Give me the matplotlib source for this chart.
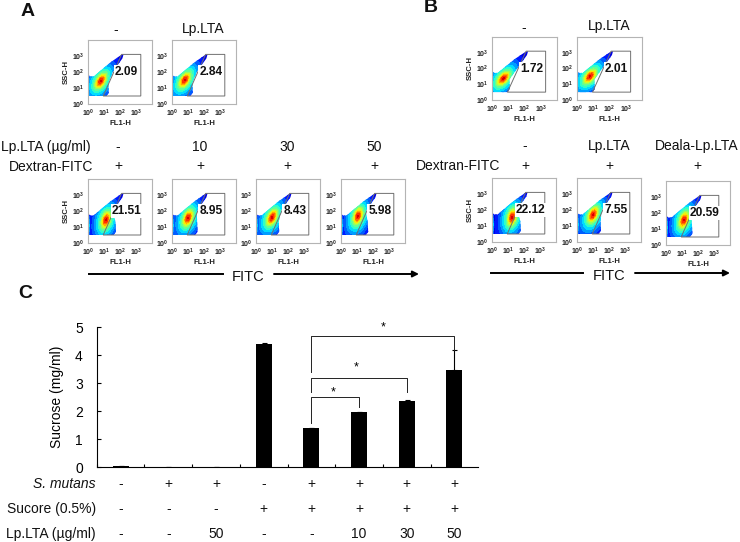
import numpy as np
import matplotlib
matplotlib.use('Agg')
import matplotlib.pyplot as plt
from matplotlib.patches import Polygon

plt.rcParams['font.family'] = ['Liberation Sans', 'DejaVu Sans']
plt.rcParams['mathtext.default'] = 'regular'

W, H = 740, 542

# flow panels: gate %, density peak (log x, log y), right edge of blob foot
a_top_pct = ['2.09', '2.84']
a_top_peak = [(0.80, 1.44), (0.80, 1.50)]
a_top_foot = [1.25, 1.25]

a_pct = ['21.51', '8.95', '8.43', '5.98']
a_peak = [(1.12, 1.44), (1.00, 1.56), (1.00, 1.60), (1.06, 1.68)]
a_foot = [1.70, 1.55, 1.40, 1.65]
a_doses = ['-', '10', '30', '50']

b_top_pct = ['1.72', '2.01']
b_top_peak = [(0.70, 1.37), (0.80, 1.50)]
b_top_foot = [1.05, 1.05]

b_pct = ['22.12', '7.55', '20.59']
b_peak = [(1.25, 1.55), (1.00, 1.70), (1.12, 1.56)]
b_foot = [1.75, 1.45, 1.60]
b_labels = ['-', 'Lp.LTA', 'Deala-Lp.LTA']

# panel C
sucrose = [0.05, 0.01, 0.01, 4.42, 1.40, 1.97, 2.36, 3.46]
sucrose_err = [0.01, 0.0, 0.0, 0.03, 0.01, 0.02, 0.03, 0.72]
s_mutans = ['-', '+', '+', '-', '+', '+', '+', '+']
sucore = ['-', '-', '-', '+', '+', '+', '+', '+']
lp_lta = ['-', '-', '50', '-', '-', '10', '30', '50']
# (from bar, to bar, top, left end, right end)
brackets = [(4, 5, 2.50, 1.60, 2.15), (4, 6, 3.20, 2.70, 2.70), (4, 7, 4.70, 3.40, 4.20)]
stars = [(4.45, 2.68), (4.95, 3.58), (5.5, 5.00)]

fig = plt.figure(figsize=(W / 100, H / 100), dpi=100)


def px_axes(x0, y0, x1, y1):
    return fig.add_axes([x0 / W, 1 - y1 / H, (x1 - x0) / W, (y1 - y0) / H])


def label(x, y, s, size=10, ha='center', **kw):
    fig.text(x / W, 1 - y / H, s, fontsize=size, ha=ha, va='center', color='#111111', **kw)


def flow(x0, y0, x1, y1, pct, peak, foot, ylab=False):
    ax = px_axes(x0, y0, x1, y1)
    ax.set_xlim(0, 4)
    ax.set_ylim(0, 4)
    xx, yy = np.meshgrid(np.linspace(0, 3, 200), np.linspace(0, 3.5, 200))
    # steeper density when the foot is wide
    ang = np.radians(50 + (foot - 1.0) * 35)
    dx, dy = xx - peak[0], yy - peak[1]
    u = dx * np.cos(ang) + dy * np.sin(ang)
    v = -dx * np.sin(ang) + dy * np.cos(ang)
    z = 0.52 * np.exp(-(u / 1.25) ** 2 - (v / 0.72) ** 2) + 0.42 * np.exp(-(u / 0.42) ** 2 - (v / 0.2) ** 2)
    z = np.maximum(z, 0.65 * np.exp(-(xx / 0.07) ** 2) * np.exp(-((yy - 1.1) / 0.7) ** 2))
    cs = ax.contourf(xx, yy, z, levels=np.linspace(0, 1.0, 15), cmap='jet', vmin=-0.06, vmax=1.05)
    outline = [(0, 0.5), (0, 1.85), (0.12, 1.72), (0.35, 1.72), (0.8, 2.1), (1.4, 2.6),
               (2.05, 3.05), (2.22, 3.1), (2.15, 2.85), (1.55, 2.0),
               (foot + 0.02, 1.3), (foot + 0.05, 0.7), (foot - 0.1, 0.5)]
    clip = Polygon(outline, closed=True, transform=ax.transData, fc='none', ec='none')
    ax.add_patch(clip)
    cs.set_clip_path(clip)
    gate = [(2.1, 3.1), (3.3, 3.1), (3.3, 0.5), (0.95, 0.5)]
    ax.add_patch(Polygon(gate, closed=True, fc='none', ec='#707070', lw=0.7))
    ax.text(2.42, 2.0, pct, fontsize=8.6, fontweight='bold', ha='center', va='center', color='#111111',
            bbox=dict(fc='white', ec='none', pad=0.6))
    ticks = [0, 1, 2, 3]
    names = ['$10^{%d}$' % t for t in ticks]
    ax.set_xticks(ticks, names)
    ax.set_yticks(ticks, names)
    ax.tick_params(length=0, pad=2.5, labelsize=5, colors='#222222')
    for t in ax.get_xticklabels() + ax.get_yticklabels():
        t.set_fontweight('bold')
    ax.set_xlabel('FL1-H', fontsize=5.6, fontweight='bold', labelpad=1, color='#222222')
    if ylab:
        ax.set_ylabel('SSC-H', fontsize=5.6, fontweight='bold', labelpad=1.5, color='#222222')
    for s in ax.spines.values():
        s.set_color('#b4b4b4')
        s.set_linewidth(0.8)


# panel A
for i, x in enumerate([88, 172]):
    flow(x, 40, x + 64, 104, a_top_pct[i], a_top_peak[i], a_top_foot[i], ylab=i == 0)
for i, x in enumerate([88, 172, 256, 341]):
    flow(x, 179, x + 64, 243, a_pct[i], a_peak[i], a_foot[i], ylab=i == 0)

# panel B
for i, x in enumerate([492, 577]):
    flow(x, 37, x + 65, 100, b_top_pct[i], b_top_peak[i], b_top_foot[i], ylab=i == 0)
for i, (x, y) in enumerate([(492, 178), (577, 178), (666, 181)]):
    flow(x, y, x + 64, y + 64, b_pct[i], b_peak[i], b_foot[i], ylab=i == 0)

label(28, 12, 'A', size=14, fontweight='bold')
label(431, 8, 'B', size=14, fontweight='bold')
label(25, 294, 'C', size=14, fontweight='bold')

label(116, 30, '-')
label(203, 29, 'Lp.LTA')
label(524, 28, '-')
label(609, 26, 'Lp.LTA')

label(91, 147, 'Lp.LTA (µg/ml)', ha='right')
label(93, 167, 'Dextran-FITC', ha='right')
for x, d in zip([118, 200, 287, 374], a_doses):
    label(x, 147, d)
    label(x, 166, '+')

label(500, 166, 'Dextran-FITC', ha='right')
for x, d in zip([525, 609, 697], b_labels):
    label(x, 146, d)
    label(x, 166, '+')

# FITC arrows, drawn on a full-figure overlay in pixel units
over = fig.add_axes([0, 0, 1, 1], facecolor='none')
over.set_xlim(0, W)
over.set_ylim(H, 0)
over.axis('off')
over.plot([89, 223], [274, 274], color='k', lw=1.4)
over.annotate('', xy=(419, 274), xytext=(274, 274),
              arrowprops=dict(arrowstyle='-|>', color='k', lw=1.4, mutation_scale=9, shrinkA=0, shrinkB=0))
over.plot([491, 583], [273, 273], color='k', lw=1.4)
over.annotate('', xy=(730, 273), xytext=(635, 273),
              arrowprops=dict(arrowstyle='-|>', color='k', lw=1.4, mutation_scale=9, shrinkA=0, shrinkB=0))
label(248, 277, 'FITC', size=10.5)
label(609, 276, 'FITC', size=10.5)

# panel C bars
ax = px_axes(96.7, 327.3, 478.3, 467.3)
pos = np.arange(len(sucrose))
ax.bar(pos, sucrose, width=0.335, color='k')
ax.errorbar(pos, sucrose, yerr=[np.zeros(len(sucrose)), sucrose_err], fmt='none', ecolor='k',
            elinewidth=0.8, capsize=1.8, capthick=0.8)
ax.set_xlim(-0.5, 7.5)
ax.set_ylim(0, 5)
ax.set_xticks(np.arange(8) - 0.5, [''] * 8)
ax.set_yticks(range(6))
ax.tick_params(axis='y', direction='in', length=3, width=0.8, labelsize=10, pad=10)
ax.tick_params(axis='x', direction='in', length=2.5, width=0.8)
ax.set_ylabel('Sucrose (mg/ml)', fontsize=10, labelpad=8)
ax.spines['top'].set_visible(False)
ax.spines['right'].set_visible(False)
for s in ['left', 'bottom']:
    ax.spines[s].set_linewidth(0.8)
for a, b, top, left, right in brackets:
    ax.plot([a, a, b, b], [left, top, top, right], color='#222222', lw=0.7, clip_on=False)
for x, y in stars:
    ax.text(x, y, '*', fontsize=9, ha='center', va='center', clip_on=False)

# table under the bars
centers = ax.transData.transform(np.column_stack([pos, np.zeros(8)]))[:, 0]
rows = [(484, s_mutans), (509, sucore), (534, lp_lta)]
for (y, vals) in rows:
    for cx, v in zip(centers, vals):
        label(cx, y, v, size=10)
label(96, 484, 'S. mutans', size=10, ha='right', style='italic')
label(96, 509, 'Sucore (0.5%)', size=10, ha='right')
label(96, 534, 'Lp.LTA (µg/ml)', size=10, ha='right')

fig.savefig('out.png', dpi=100, facecolor='white')
